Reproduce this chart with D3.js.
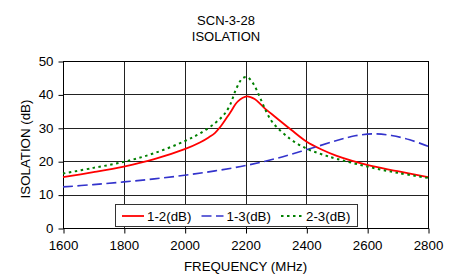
<!DOCTYPE html>
<html>
<head>
<meta charset="utf-8">
<script src="https://cdn.jsdelivr.net/npm/d3@7"></script>
<style>
  body { margin: 0; background: #fff; }
  text { font-family: "Liberation Sans", Arial, sans-serif; fill: #000; }
</style>
</head>
<body>
<div id="chart"></div>
<script>
(function() {

  // values
  var xTicks = [1600, 1800, 2000, 2200, 2400, 2600, 2800];
  var yTicks = [0, 10, 20, 30, 40, 50];

  var freq12 = [1600, 1700, 1800, 1900, 2000, 2050, 2080, 2100, 2120, 2150, 2175, 2205, 2230, 2250, 2270, 2300, 2350, 2400, 2450, 2500, 2600, 2700, 2800];
  var iso12  = [15.2, 16.7, 18.4, 20.6, 23.6, 25.6, 27.2, 28.5, 30.6, 34.6, 37.9, 39.4, 38.6, 37.0, 35.3, 33.1, 29.4, 25.9, 23.5, 21.6, 18.9, 17.0, 15.2];

  var freq13 = [1600, 1700, 1800, 1900, 2000, 2100, 2200, 2300, 2400, 2500, 2560, 2620, 2680, 2740, 2800];
  var iso13  = [12.3, 13.0, 13.8, 14.7, 15.8, 17.1, 18.7, 20.8, 23.4, 26.2, 27.6, 28.2, 27.7, 26.4, 24.5];

  var freq23 = [1600, 1700, 1800, 1900, 2000, 2050, 2100, 2130, 2150, 2170, 2190, 2205, 2225, 2247, 2269, 2290, 2345, 2400, 2450, 2500, 2600, 2700, 2800];
  var iso23  = [16.3, 18.0, 19.8, 22.4, 26.0, 28.3, 31.4, 34.0, 37.0, 41.8, 44.8, 45.2, 43.3, 39.2, 34.7, 31.5, 26.8, 23.8, 22.1, 20.7, 18.4, 16.5, 15.0];

  var seriesNames = ['1-2(dB)', '1-3(dB)', '2-3(dB)'];

  var W = 455, H = 280;
  var margin = {top: 61, right: 27, bottom: 52, left: 63};

  var svg = d3.select('#chart')
    .append('svg')
    .attr('width', W)
    .attr('height', H);

  var x = d3.scaleLinear().domain([1600, 2800]).range([margin.left, W - margin.right]);
  var y = d3.scaleLinear().domain([0, 50]).range([H - margin.bottom, margin.top]);

  // grid
  svg.append('g')
    .selectAll('line.v')
    .data(xTicks)
    .enter().append('line')
    .attr('x1', function(d) { return Math.round(x(d)) + 0.5; })
    .attr('x2', function(d) { return Math.round(x(d)) + 0.5; })
    .attr('y1', y(0)).attr('y2', y(50))
    .attr('stroke', '#222');

  svg.append('g')
    .selectAll('line.h')
    .data(yTicks)
    .enter().append('line')
    .attr('y1', function(d) { return Math.round(y(d)) + 0.5; })
    .attr('y2', function(d) { return Math.round(y(d)) + 0.5; })
    .attr('x1', x(1600)).attr('x2', x(2800))
    .attr('stroke', '#222');

  // axes
  var xAxis = d3.axisBottom(x).tickValues(xTicks).tickSize(5).tickPadding(7).tickFormat(d3.format('d'));
  var yAxis = d3.axisLeft(y).tickValues(yTicks).tickSize(5).tickPadding(5);

  svg.append('g')
    .attr('transform', 'translate(0,' + (Math.round(y(0)) + 0.5) + ')')
    .call(xAxis)
    .call(function(g) { g.select('.domain').remove(); })
    .call(function(g) {
      g.selectAll('.tick line').attr('stroke', '#000').attr('transform', 'translate(0.5,0)');
      g.selectAll('text').style('font-size', '13.3px').style('font-family', '"Liberation Sans", Arial, sans-serif');
    });

  svg.append('g')
    .attr('transform', 'translate(' + (Math.round(x(1600)) + 0.5) + ',0)')
    .call(yAxis)
    .call(function(g) { g.select('.domain').remove(); })
    .call(function(g) {
      g.selectAll('.tick line').attr('stroke', '#000').attr('transform', 'translate(0,0.5)');
      g.selectAll('text').style('font-size', '13.3px').style('font-family', '"Liberation Sans", Arial, sans-serif');
    });

  // plot border
  svg.append('rect')
    .attr('x', Math.round(x(1600)) + 0.5)
    .attr('y', Math.round(y(50)) + 0.5)
    .attr('width', Math.round(x(2800)) - Math.round(x(1600)))
    .attr('height', Math.round(y(0)) - Math.round(y(50)))
    .attr('fill', 'none')
    .attr('stroke', '#000');

  // series
  var line = d3.line()
    .x(function(d) { return x(d[0]); })
    .y(function(d) { return y(d[1]); })
    .curve(d3.curveCatmullRom.alpha(0.5));

  var series = [
    {name: seriesNames[0], pts: d3.zip(freq12, iso12), color: '#ff0000', dash: null, width: 1.8},
    {name: seriesNames[1], pts: d3.zip(freq13, iso13), color: '#3333cc', dash: '10,4.5', width: 1.6},
    {name: seriesNames[2], pts: d3.zip(freq23, iso23), color: '#008000', dash: '2.5,3.5', width: 2}
  ];

  series.forEach(function(s) {
    svg.append('path')
      .datum(s.pts)
      .attr('d', line)
      .attr('fill', 'none')
      .attr('stroke', s.color)
      .attr('stroke-width', s.width)
      .attr('stroke-dasharray', s.dash);
  });

  // legend
  var lg = svg.append('g').attr('transform', 'translate(115,204)');
  lg.append('rect')
    .attr('x', 0.5).attr('y', 0.5)
    .attr('width', 242).attr('height', 22)
    .attr('fill', '#fff')
    .attr('stroke', '#333');

  series.forEach(function(s, i) {
    var gx = 7 + i * 79.5;
    lg.append('line')
      .attr('x1', gx).attr('x2', gx + 22)
      .attr('y1', 12).attr('y2', 12)
      .attr('stroke', s.color)
      .attr('stroke-width', s.width)
      .attr('stroke-dasharray', s.dash);
    lg.append('text')
      .attr('x', gx + 25)
      .attr('y', 16.5)
      .style('font-size', '13.3px')
      .text(s.name);
  });

  // titles
  svg.append('text')
    .attr('x', 226).attr('y', 25)
    .attr('text-anchor', 'middle')
    .style('font-size', '13px')
    .text('SCN-3-28');
  svg.append('text')
    .attr('x', 226).attr('y', 40.5)
    .attr('text-anchor', 'middle')
    .style('font-size', '13px')
    .text('ISOLATION');

  svg.append('text')
    .attr('x', 245.5).attr('y', 271)
    .attr('text-anchor', 'middle')
    .style('font-size', '13.3px')
    .text('FREQUENCY (MHz)');

  svg.append('text')
    .attr('transform', 'translate(30,149) rotate(-90)')
    .attr('text-anchor', 'middle')
    .style('font-size', '13.3px')
    .text('ISOLATION (dB)');

})();
</script>
</body>
</html>
